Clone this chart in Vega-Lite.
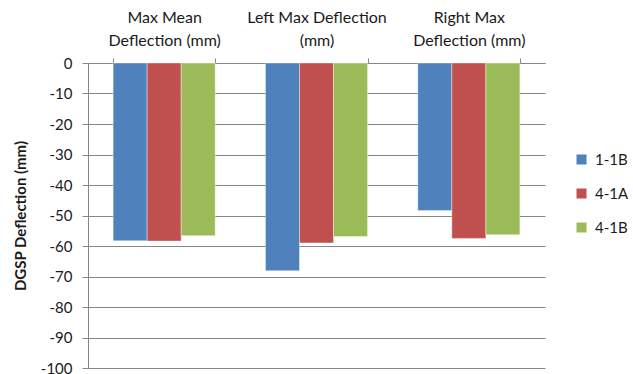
{
  "$schema": "https://vega.github.io/schema/vega-lite/v6.json",
  "width": 457,
  "height": 305,
  "autosize": "none",
  "padding": {"left": 88, "top": 63, "right": 88, "bottom": 6},
  "background": "white",
  "config": {
    "font": "Lato",
    "view": {"stroke": null}
  },
  "data": {
    "values": [
      {"measure": "Max Mean Deflection (mm)", "specimen": "1-1B", "deflection": -58.3},
      {"measure": "Max Mean Deflection (mm)", "specimen": "4-1A", "deflection": -58.4},
      {"measure": "Max Mean Deflection (mm)", "specimen": "4-1B", "deflection": -56.6},
      {"measure": "Left Max Deflection (mm)", "specimen": "1-1B", "deflection": -68.1},
      {"measure": "Left Max Deflection (mm)", "specimen": "4-1A", "deflection": -59.0},
      {"measure": "Left Max Deflection (mm)", "specimen": "4-1B", "deflection": -56.9},
      {"measure": "Right Max Deflection (mm)", "specimen": "1-1B", "deflection": -48.4},
      {"measure": "Right Max Deflection (mm)", "specimen": "4-1A", "deflection": -57.5},
      {"measure": "Right Max Deflection (mm)", "specimen": "4-1B", "deflection": -56.3}
    ]
  },
  "mark": {"type": "bar", "strokeWidth": 0.8, "strokeOpacity": 0.5, "stroke": "white"},
  "encoding": {
    "x": {
      "field": "measure",
      "type": "nominal",
      "sort": null,
      "scale": {"paddingInner": 0.33, "paddingOuter": 0.165},
      "axis": {
        "orient": "top",
        "title": null,
        "labelAngle": 0,
        "labelExpr": "datum.label == 'Max Mean Deflection (mm)' ? ['Max Mean', 'Deflection (mm)'] : datum.label == 'Left Max Deflection (mm)' ? ['Left Max Deflection', '(mm)'] : datum.label == 'Right Max Deflection (mm)' ? ['Right Max', 'Deflection (mm)'] : ''",
        "labelFontSize": 16,
        "labelLineHeight": 23,
        "labelColor": "#1a1a1a",
        "labelPadding": 33,
        "tickBand": "extent",
        "tickSize": 5,
        "tickColor": "#868686",
        "domainColor": "#868686",
        "grid": false
      }
    },
    "xOffset": {"field": "specimen", "type": "nominal", "scale": {"paddingInner": 0, "paddingOuter": 0}},
    "y": {
      "field": "deflection",
      "type": "quantitative",
      "scale": {"domain": [-100, 0], "nice": false},
      "axis": {
        "title": "DGSP Deflection (mm)",
        "titleFontSize": 15,
        "titleFontWeight": "bold",
        "titleColor": "#1a1a1a",
        "titlePadding": 12,
        "values": [0, -10, -20, -30, -40, -50, -60, -70, -80, -90, -100],
        "labelExpr": "datum.value + ''",
        "labelFontSize": 15,
        "labelColor": "#1a1a1a",
        "labelPadding": 10,
        "tickSize": 6,
        "tickColor": "#868686",
        "domainColor": "#868686",
        "gridColor": "#868686",
        "gridOpacity": 1
      }
    },
    "color": {
      "field": "specimen",
      "type": "nominal",
      "scale": {"domain": ["1-1B", "4-1A", "4-1B"], "range": ["#4F81BD", "#C0504D", "#9BBB59"]},
      "legend": {
        "title": null,
        "orient": "none",
        "legendX": 486,
        "legendY": 89,
        "symbolType": "square",
        "symbolSize": 100,
        "symbolStrokeWidth": 0,
        "labelFontSize": 15,
        "labelColor": "#1a1a1a",
        "rowPadding": 18,
        "labelOffset": 6
      }
    }
  }
}
